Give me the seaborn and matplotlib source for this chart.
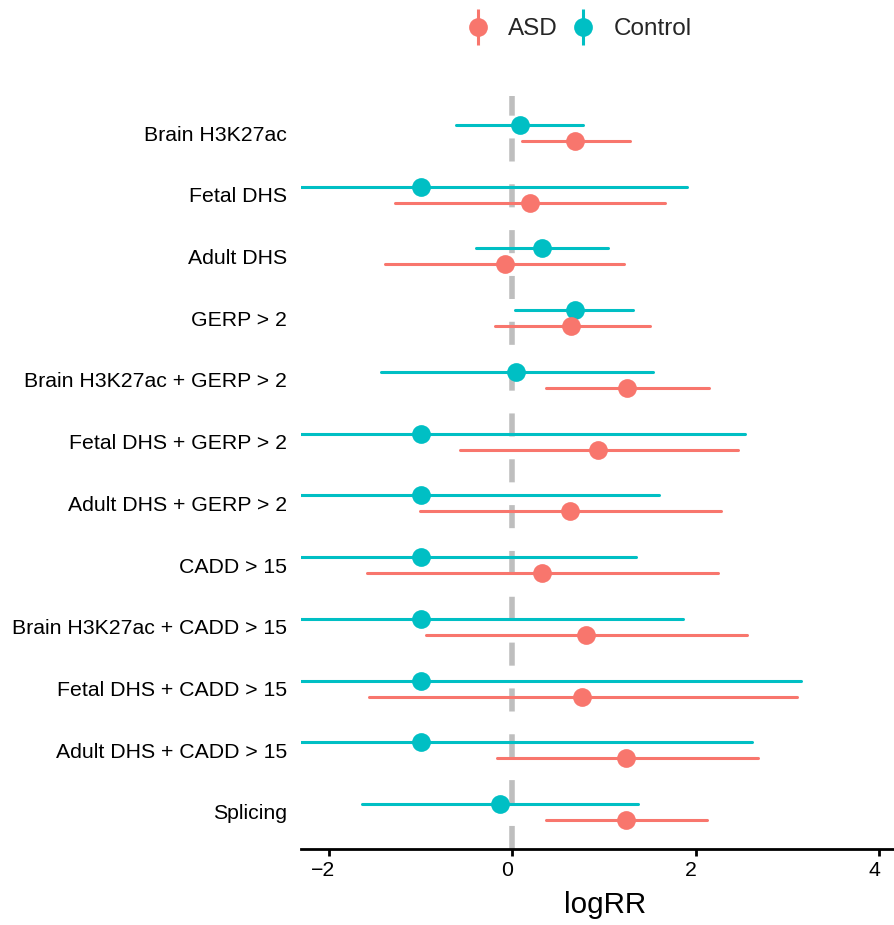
import numpy as np
import pandas as pd
import matplotlib
matplotlib.use("Agg")
import matplotlib.pyplot as plt
from matplotlib.lines import Line2D
from matplotlib.legend_handler import HandlerTuple
from matplotlib.transforms import ScaledTranslation
import seaborn as sns

# Annotation sets tested for enrichment
categories = [
    "Brain H3K27ac", "Fetal DHS", "Adult DHS", "GERP > 2",
    "Brain H3K27ac + GERP > 2", "Fetal DHS + GERP > 2", "Adult DHS + GERP > 2",
    "CADD > 15", "Brain H3K27ac + CADD > 15", "Fetal DHS + CADD > 15",
    "Adult DHS + CADD > 15", "Splicing",
]

# log relative risk with lower / upper confidence bounds
asd_est = [0.69, 0.20, -0.08, 0.64, 1.25, 0.94, 0.63, 0.33, 0.81, 0.76, 1.24, 1.24]
asd_lo = [0.11, -1.28, -1.38, -0.19, 0.37, -0.57, -1.00, -1.58, -0.94, -1.56, -0.17, 0.37]
asd_hi = [1.28, 1.67, 1.22, 1.50, 2.15, 2.46, 2.28, 2.24, 2.56, 3.10, 2.68, 2.12]

ctrl_est = [0.09, -0.99, 0.32, 0.68, 0.04, -0.99, -0.99, -0.99, -0.99, -0.99, -0.99, -0.13]
ctrl_lo = [-0.61, -4.0, -0.39, 0.03, -1.43, -4.0, -4.0, -4.0, -4.0, -4.0, -4.0, -1.64]
ctrl_hi = [0.77, 1.90, 1.04, 1.32, 1.53, 2.54, 1.60, 1.35, 1.86, 3.15, 2.61, 1.37]

groups = ["ASD", "Control"]
palette = {"ASD": "#F8766D", "Control": "#00BFC4"}

rows = []
for grp, lo, est, hi in [("ASD", asd_lo, asd_est, asd_hi),
                         ("Control", ctrl_lo, ctrl_est, ctrl_hi)]:
    for cat, a, b, c in zip(categories, lo, est, hi):
        for v in (a, b, c):
            rows.append({"annotation": cat, "group": grp, "logRR": v})
df = pd.DataFrame(rows)

sns.set_theme(style="white")
plt.rcParams["font.family"] = ["Liberation Sans", "DejaVu Sans"]
plt.rcParams["lines.scale_dashes"] = False

fig = plt.figure(figsize=(8.94, 9.25), dpi=100)
ax = fig.add_axes([301 / 894, 1 - 849 / 925, 1 - 301 / 894, (849 - 96) / 925])

ax.axvline(0, color="#BEBEBE", linewidth=4.0, linestyle=(0, (16.6, 16.4)), zorder=0)

sns.pointplot(
    data=df, x="logRR", y="annotation", hue="group",
    order=categories, hue_order=["Control", "ASD"], palette=palette,
    estimator="median", errorbar=lambda v: (v.min(), v.max()),
    dodge=0.26, linestyle="none", markers="o",
    markersize=13.5, markeredgewidth=0, linewidth=2.2,
    err_kws={"linewidth": 2.2}, capsize=0, ax=ax, legend=False,
)

ax.set_xlim(-2.3, 4.16)
ax.set_ylim(len(categories) - 0.4, -0.6)
ax.set_xticks([-2, 0, 2, 4])
ax.set_xlabel("logRR", fontsize=21.3, color="black")
ax.xaxis.set_label_coords((605 - 301) / 593, -0.075)
ax.xaxis.label.set_verticalalignment("center")
ax.set_ylabel("")
ax.tick_params(axis="x", labelsize=15.3, colors="black", length=5, width=2,
               direction="out", bottom=True, pad=4)
ax.tick_params(axis="y", labelsize=15.3, colors="black", length=0, pad=10)
shift = ScaledTranslation(-5 / 100, 0, fig.dpi_scale_trans)
for lab in ax.get_xticklabels():
    lab.set_transform(lab.get_transform() + shift)
for side in ("top", "right", "left"):
    ax.spines[side].set_visible(False)
ax.spines["bottom"].set_color("black")
ax.spines["bottom"].set_linewidth(2)

handles = []
for g in groups:
    bar = Line2D([], [], linestyle="none", marker="|", markersize=26,
                 markeredgewidth=2.2, color=palette[g])
    dot = Line2D([], [], linestyle="none", marker="o", markersize=13.5,
                 markeredgewidth=0, color=palette[g])
    handles.append((bar, dot))
fig.legend(handles, groups, loc="center", bbox_to_anchor=(578 / 894, 1 - 29 / 925),
           ncol=2, frameon=False, fontsize=17.5, handler_map={tuple: HandlerTuple(ndivide=1)},
           handlelength=1.1, handletextpad=0.7, columnspacing=0.5)

fig.savefig("out.png", dpi=100)
